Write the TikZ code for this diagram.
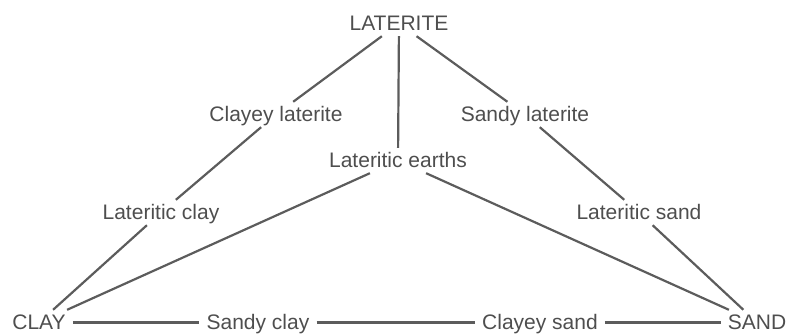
\documentclass[tikz,border=0pt]{standalone}
\usepackage{fontspec}
\setmainfont{Liberation Sans}
\usepackage{tikz}
\usetikzlibrary{positioning}
\usepackage{xcolor}
\definecolor{sgray}{RGB}{78,78,78}
\definecolor{lgray}{RGB}{92,92,92}

\begin{document}
\begin{tikzpicture}[x=1pt,y=-1pt,
    every node/.style={text=sgray,font=\fontsize{21}{24}\selectfont,anchor=base,
      text height=15pt,text depth=0pt,inner xsep=7pt,inner ysep=5pt},
    link/.style={draw=lgray,line width=2.2pt}]
    \useasboundingbox (0,0) rectangle (787,336);
    \node (lat) at (399,31) {LATERITE};
    \node (clat) at (276,122) {Clayey laterite};
    \node (slat) at (525,122) {Sandy laterite};
    \node (earth) at (398,168) {Lateritic earths};
    \node (lclay) at (161,220) {Lateritic clay};
    \node (lsand) at (639,220) {Lateritic sand};
    \node (clay) at (39,330) {CLAY};
    \node (sclay) at (258,330) {Sandy clay};
    \node (csand) at (540,330) {Clayey sand};
    \node (sand) at (757,330) {SAND};
    \draw[link] (lat)--(clat);\draw[link] (lat)--(earth);\draw[link] (lat)--(slat);
    \draw[link] (clat)--(lclay);\draw[link] (lclay)--(clay);
    \draw[link] (slat)--(lsand);\draw[link] (lsand)--(sand);
    \draw[link] (earth)--(clay);\draw[link] (earth)--(sand);
    \draw[link] (clay)--(sclay);\draw[link] (sclay)--(csand);\draw[link] (csand)--(sand);
  \end{tikzpicture}
\end{document}
